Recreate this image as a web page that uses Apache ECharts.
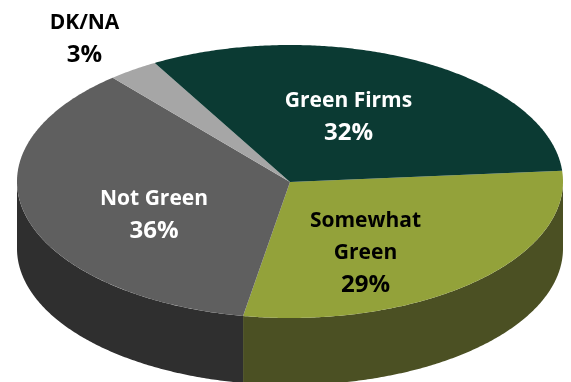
<!DOCTYPE html>
<html>
<head>
<meta charset="utf-8">
<style>html,body{margin:0;padding:0;background:#fff}#chart{width:571px;height:382px}</style>
<script src="https://cdn.jsdelivr.net/npm/echarts@6/dist/echarts.min.js"></script>
</head>
<body>
<div id="chart"></div>
<script>
// Survey shares, clockwise from the right-hand edge of the disc
const categories = ['Somewhat\nGreen', 'Not Green', 'DK/NA', 'Green Firms'];
const shares = [29, 36, 3, 32];
const topColors = ['#93A23A', '#5F5F5F', '#A6A6A6', '#0B3A33'];
const sideColors = ['#4B5023', '#2F2F2F', '#6E6E6E', '#072420'];
const labelColors = ['#000000', '#FFFFFF', '#000000', '#FFFFFF'];

// Tilted-disc geometry
const cx = 290, cy = 181.5, rx = 273, ry = 136.5, depth = 67;
const startDeg = -4.5;
// Label centres, in pixels
const labelAt = [[365.5, 253], [154, 215], [84.5, 39], [348.5, 117]];

const total = shares.reduce((a, b) => a + b, 0);
function sliceAngles(i) {
  let before = 0;
  for (let k = 0; k < i; k++) before += shares[k];
  const a0 = startDeg + before / total * 360;
  return [a0, a0 + shares[i] / total * 360];
}
function rimPoint(deg, dy) {
  const t = deg * Math.PI / 180;
  return [cx + rx * Math.cos(t), cy + dy + ry * Math.sin(t)];
}
function arcPoints(a0, a1, dy) {
  const n = Math.max(2, Math.ceil(Math.abs(a1 - a0) * 2));
  const pts = [];
  for (let j = 0; j <= n; j++) pts.push(rimPoint(a0 + (a1 - a0) * j / n, dy));
  return pts;
}
// Name lines at one size, the percentage slightly larger
function labelText(name, value) {
  return name.split('\n').map(line => '{n|' + line + '}').join('\n') + '\n{p|' + value + '%}';
}

const rows = categories.map((name, i) => [i, shares[i]]);

const chart = echarts.init(document.getElementById('chart'), null, { renderer: 'canvas' });
chart.setOption({
  animation: false,
  backgroundColor: '#FFFFFF',
  series: [
    {
      // Wall of the disc: only the near half (0 to 180 degrees) shows
      type: 'custom',
      coordinateSystem: 'none',
      silent: true,
      data: rows,
      renderItem(params, api) {
        const i = api.value(0);
        const [a0, a1] = sliceAngles(i);
        const from = Math.max(a0, 0), to = Math.min(a1, 180);
        if (to <= from) return { type: 'group', children: [] };
        const points = arcPoints(from, to, 0).concat(arcPoints(to, from, depth));
        return { type: 'polygon', shape: { points }, style: { fill: sideColors[i] } };
      }
    },
    {
      // Top face with its labels
      type: 'custom',
      coordinateSystem: 'none',
      silent: true,
      data: rows,
      renderItem(params, api) {
        const i = api.value(0);
        const [a0, a1] = sliceAngles(i);
        const points = [[cx, cy + 0.5]].concat(arcPoints(a0, a1, 0));
        return {
          type: 'group',
          children: [
            { type: 'polygon', shape: { points }, style: { fill: topColors[i] } },
            {
              type: 'text',
              z2: 10,
              style: {
                x: labelAt[i][0],
                y: labelAt[i][1],
                text: labelText(categories[i], api.value(1)),
                fill: labelColors[i],
                align: 'center',
                verticalAlign: 'middle',
                rich: {
                  n: { font: 'bold 21px "Open Sans", sans-serif', lineHeight: 32, fill: labelColors[i] },
                  p: { font: 'bold 24px "Open Sans", sans-serif', lineHeight: 32, fill: labelColors[i] }
                }
              }
            }
          ]
        };
      }
    }
  ]
});
</script>
</body>
</html>
